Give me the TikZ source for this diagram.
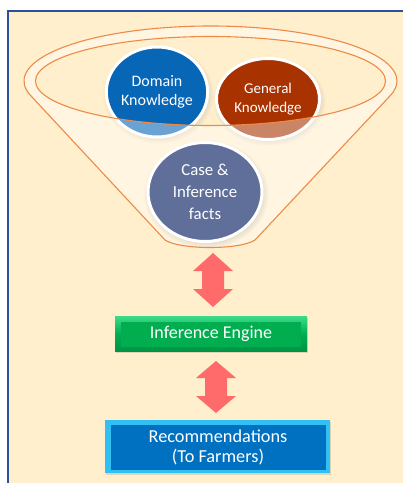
\documentclass[tikz,border=0pt]{standalone}
\usepackage{fontspec}
\setmainfont{Carlito}
\usetikzlibrary{shapes.geometric,shadows}
\definecolor{panel}{HTML}{FFEFCC}
\definecolor{frameblue}{HTML}{2E4E9E}
\definecolor{funnelline}{HTML}{EE8A48}
\definecolor{domainblue}{HTML}{0766B6}
\definecolor{generalred}{HTML}{A83200}
\definecolor{caseslate}{HTML}{5F6F9A}
\definecolor{arrowred}{HTML}{FF6B6B}
\definecolor{enginegreen}{HTML}{00AE50}
\definecolor{enginelight}{HTML}{3DDC8A}
\definecolor{recblue}{HTML}{0070C0}
\definecolor{reccyan}{HTML}{30C0F4}
\tikzset{
  ball/.style={ellipse, draw=white, line width=3pt, text=white, align=center,
    inner sep=0pt, circular drop shadow={opacity=0.25, shadow xshift=1pt, shadow yshift=-2pt}},
  funnelstroke/.style={draw=funnelline, line width=1.1pt},
  boxtext/.style={text=white, align=center, font=\fontsize{18}{20}\selectfont}
}
\newcommand\blockarrow[4]{%
  \fill[arrowred] (#1,#2) -- (#1+20,#2+#4) -- (#1+11,#2+#4) -- (#1+11,#3-#4)
    -- (#1+20,#3-#4) -- (#1,#3) -- (#1-20,#3-#4) -- (#1-11,#3-#4)
    -- (#1-11,#2+#4) -- (#1-20,#2+#4) -- cycle;}
\newcommand\funnelpath{(165,240) -- (30.7,95.6)
  arc[start angle=164.6, end angle=375.5, x radius=186.5, y radius=55]
  -- (255,240) .. controls (240,250) and (180,250) .. (165,240) -- cycle}
\begin{document}
\begin{tikzpicture}[x=1pt,y=-1pt]
\useasboundingbox (0,0) rectangle (403,483);
\fill[white] (0,0) rectangle (403,483);
% panel
\fill[panel] (8,11) rectangle (403,483);
\draw[frameblue, line width=1.2pt] (8,483) -- (8,11) -- (403,11);
% knowledge balls
\node[ball, fill=domainblue, minimum width=100, minimum height=90,
  font=\fontsize{16}{19}\selectfont] (domain) at (157,92) {Domain\\Knowledge};
\node[ball, fill=generalred, minimum width=103, minimum height=81,
  font=\fontsize{15}{19}\selectfont] (general) at (268,99) {General\\Knowledge};
% funnel overlay (ring + cone), even-odd
\path[fill=white, fill opacity=0.4, even odd rule]
  \funnelpath
  (210.5,81) ellipse [x radius=175, y radius=44.5];
% case ball
\node[ball, fill=caseslate, minimum width=114, minimum height=99,
  font=\fontsize{16.8}{22}\selectfont] (case) at (205,192) {Case \&\\Inference\\facts};
% funnel outlines
\draw[funnelstroke] \funnelpath;
\draw[funnelstroke] (210.5,81) ellipse [x radius=175, y radius=44.5];
% inference engine box
\node[minimum width=192, minimum height=35, inner sep=0pt,
  top color=enginelight, bottom color=enginegreen!85!black, middle color=enginegreen,
  drop shadow={opacity=0.25, shadow xshift=1pt, shadow yshift=-2pt}] (enginebg) at (211,333.5) {};
\node[minimum width=180, minimum height=25, inner sep=0pt, fill=enginegreen] (engine) at (211,334) {};
\node[boxtext] (enginetext) at (engine.center) {Inference Engine};
% recommendations box
\node[minimum width=225, minimum height=53, inner sep=0pt, fill=reccyan,
  drop shadow={opacity=0.25, shadow xshift=1pt, shadow yshift=-2pt}] (recbg) at (217.5,446.5) {};
\node[minimum width=215, minimum height=45, inner sep=0pt, fill=recblue] (rec) at (218,447) {};
\node[boxtext, font=\fontsize{18.3}{20}\selectfont] (rectext) at (rec.center) {Recommendations\\(To Farmers)};
% block arrows
\blockarrow{213}{253}{307}{18}
\blockarrow{216}{361}{413}{17}
\end{tikzpicture}
\end{document}
